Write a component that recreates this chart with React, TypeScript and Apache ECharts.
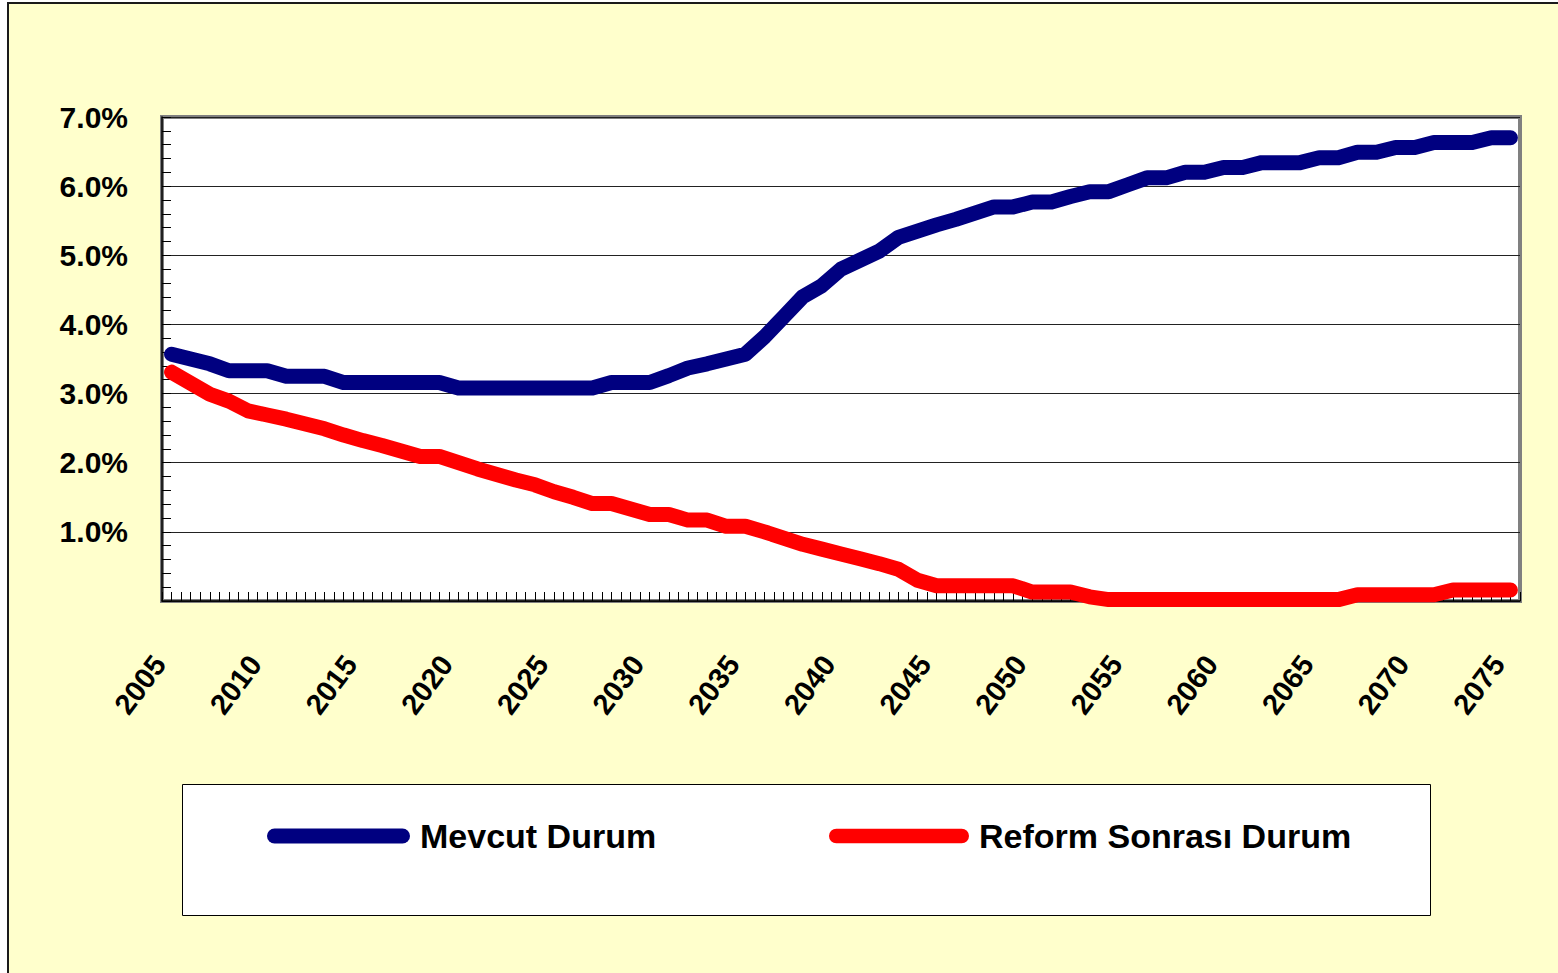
import React, { useEffect, useRef } from "react";
import * as echarts from "echarts";

const years: string[] = [
  "2005","2006","2007","2008","2009","2010","2011","2012","2013","2014",
  "2015","2016","2017","2018","2019","2020","2021","2022","2023","2024",
  "2025","2026","2027","2028","2029","2030","2031","2032","2033","2034",
  "2035","2036","2037","2038","2039","2040","2041","2042","2043","2044",
  "2045","2046","2047","2048","2049","2050","2051","2052","2053","2054",
  "2055","2056","2057","2058","2059","2060","2061","2062","2063","2064",
  "2065","2066","2067","2068","2069","2070","2071","2072","2073","2074",
  "2075",
];

// Mevcut Durum (%)
const mevcut: number[] = [
  3.57, 3.50, 3.43, 3.33, 3.33, 3.33, 3.25, 3.25, 3.25, 3.16,
  3.16, 3.16, 3.16, 3.16, 3.16, 3.08, 3.08, 3.08, 3.08, 3.08,
  3.08, 3.08, 3.08, 3.16, 3.16, 3.16, 3.26, 3.37, 3.43, 3.50,
  3.57, 3.82, 4.11, 4.40, 4.56, 4.80, 4.93, 5.06, 5.26, 5.35,
  5.44, 5.52, 5.61, 5.70, 5.70, 5.77, 5.77, 5.85, 5.92, 5.92,
  6.02, 6.12, 6.12, 6.20, 6.20, 6.27, 6.27, 6.34, 6.34, 6.34,
  6.41, 6.41, 6.49, 6.49, 6.56, 6.56, 6.63, 6.63, 6.63, 6.70,
  6.70,
];

// Reform Sonrası Durum (%)
const reform: number[] = [
  3.31, 3.15, 2.99, 2.89, 2.75, 2.69, 2.63, 2.56, 2.49, 2.40,
  2.32, 2.25, 2.17, 2.09, 2.09, 2.00, 1.91, 1.83, 1.75, 1.68,
  1.58, 1.50, 1.41, 1.41, 1.33, 1.25, 1.25, 1.17, 1.17, 1.08,
  1.08, 1.00, 0.91, 0.82, 0.75, 0.68, 0.61, 0.54, 0.46, 0.30,
  0.22, 0.22, 0.22, 0.22, 0.22, 0.13, 0.13, 0.13, 0.06, 0.02,
  0.02, 0.02, 0.02, 0.02, 0.02, 0.02, 0.02, 0.02, 0.02, 0.02,
  0.02, 0.02, 0.09, 0.09, 0.09, 0.09, 0.09, 0.16, 0.16, 0.16,
  0.16,
];

// half-year tick slots for the fine tick marks on the x axis
const halfSlots: string[] = years.flatMap((y) => [y + "a", y + "b"]);

const seriesNames = ["Mevcut Durum", "Reform Sonrası Durum"];
const seriesColors = ["#000080", "#FF0000"];

const FONT = "'Liberation Sans', Arial, sans-serif";
const ICON = "path://M7.5,0 L135.5,0 A7.5,7.5 0 0 1 135.5,15 L7.5,15 A7.5,7.5 0 0 1 7.5,0 Z";

export default function App() {
  const ref = useRef<HTMLDivElement>(null);

  useEffect(() => {
    if (!ref.current) return;
    const chart = echarts.init(ref.current, null, { renderer: "svg" });
    const legendText = {
      fontFamily: FONT,
      fontWeight: "bold" as const,
      fontSize: 34,
      color: "#000",
      padding: [0, 0, 0, 5],
    };
    chart.setOption({
      animation: false,
      backgroundColor: "#FFFFCC",
      graphic: [
        {
          type: "rect",
          left: 173,
          top: 780,
          z: 1,
          shape: { width: 1248, height: 131 },
          style: { fill: "#ffffff", stroke: "#000000", lineWidth: 1 },
        },
      ],
      legend: [
        {
          data: [seriesNames[0]],
          left: 253,
          top: 810,
          icon: ICON,
          itemWidth: 143,
          itemHeight: 15,
          textStyle: legendText,
          z: 5,
        },
        {
          data: [seriesNames[1]],
          left: 815,
          top: 810,
          icon: ICON,
          itemWidth: 140,
          itemHeight: 15,
          textStyle: legendText,
          z: 5,
        },
      ],
      grid: {
        left: 153,
        right: 38,
        top: 113,
        bottom: 372,
        show: true,
        backgroundColor: "#ffffff",
        borderColor: "#808080",
        borderWidth: 4,
      },
      xAxis: [
        {
          type: "category",
          data: years,
          boundaryGap: true,
          axisLine: { show: true, lineStyle: { color: "#000", width: 1.5 } },
          axisTick: { show: false },
          axisLabel: {
            interval: 4,
            rotate: 53,
            margin: 42,
            padding: [0, 20, 0, 0],
            fontFamily: FONT,
            fontWeight: "bold",
            fontSize: 29,
            color: "#000",
          },
          splitLine: { show: false },
        },
        {
          type: "category",
          data: halfSlots,
          boundaryGap: true,
          position: "bottom",
          axisLine: { show: false },
          axisLabel: { show: false },
          axisTick: {
            show: true,
            interval: 0,
            inside: true,
            length: 9,
            lineStyle: { color: "#000", width: 1 },
          },
          splitLine: { show: false },
        },
      ],
      yAxis: {
        type: "value",
        min: 0,
        max: 7,
        interval: 1,
        axisLine: { show: true, lineStyle: { color: "#000", width: 1.5 } },
        axisTick: { show: true, inside: true, length: 9, lineStyle: { color: "#000" } },
        minorTick: { show: true, splitNumber: 5, length: 9, lineStyle: { color: "#000" } },
        axisLabel: {
          margin: 34,
          padding: [6, 0, 0, 0],
          fontFamily: FONT,
          fontWeight: "bold",
          fontSize: 30,
          color: "#000",
          formatter: (v: number) => (v === 0 ? "" : v.toFixed(1) + "%"),
        },
        splitLine: { show: true, lineStyle: { color: "#222", width: 1 } },
      },
      series: [
        {
          name: seriesNames[0],
          type: "line",
          data: mevcut,
          xAxisIndex: 0,
          symbol: "none",
          showSymbol: false,
          itemStyle: { color: seriesColors[0] },
          lineStyle: { color: seriesColors[0], width: 15, cap: "round", join: "round" },
          z: 3,
        },
        {
          name: seriesNames[1],
          type: "line",
          data: reform,
          xAxisIndex: 0,
          symbol: "none",
          showSymbol: false,
          itemStyle: { color: seriesColors[1] },
          lineStyle: { color: seriesColors[1], width: 15, cap: "round", join: "round" },
          z: 4,
        },
      ],
    });
    return () => chart.dispose();
  }, []);

  return (
    <div
      style={{
        position: "fixed",
        left: 7,
        top: 2,
        right: 0,
        bottom: 0,
        borderLeft: "2px solid #1a1a1a",
        borderTop: "2px solid #1a1a1a",
        background: "#FFFFCC",
      }}
    >
      <div ref={ref} style={{ width: "100%", height: "100%" }} />
    </div>
  );
}
